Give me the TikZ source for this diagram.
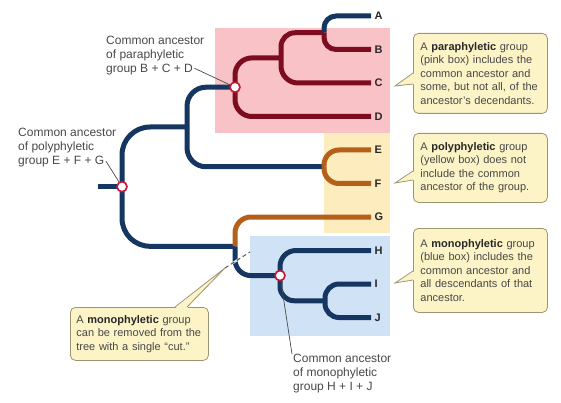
\documentclass[tikz,border=0pt]{standalone}
\usepackage{fontspec}
\setmainfont{Liberation Sans}
\usetikzlibrary{positioning}
\definecolor{navy}{RGB}{20,54,96}
\definecolor{darkred}{RGB}{125,12,32}
\definecolor{rust}{RGB}{180,96,26}
\definecolor{pinkbox}{RGB}{248,194,198}
\definecolor{yellowbox}{RGB}{253,236,190}
\definecolor{bluebox}{RGB}{207,226,246}
\definecolor{callfill}{RGB}{252,243,198}
\definecolor{callline}{RGB}{158,148,112}
\definecolor{ringred}{RGB}{200,22,52}
\definecolor{textgray}{RGB}{72,72,72}
\definecolor{termgray}{RGB}{40,40,40}
\newcommand{\term}[1]{\textbf{\color{termgray}#1}}
\newcommand{\sidepointer}[4]{%
  \fill[callfill] (#1) -- (#2+1.5,#3) -- (#2+1.5,#4) -- cycle;
  \draw[callline,line width=0.8pt] (#2,#3) -- (#1) -- (#2,#4);}

\begin{document}
\begin{tikzpicture}[x=1pt,y=-1pt,
    branch/.style={line width=5pt,rounded corners=15pt},
    ring/.style={circle,draw=ringred,fill=white,line width=1.6pt,minimum size=10pt,inner sep=0pt},
    leaf/.style={anchor=west,inner sep=3.5pt,text=termgray,font=\fontsize{11}{13}\selectfont\bfseries},
    note/.style={anchor=north west,inner sep=0pt,align=left,text=textgray,font=\fontsize{12}{14}\selectfont},
    leader/.style={draw=textgray,line width=0.7pt},
    callbox/.style={anchor=north west,draw=callline,fill=callfill,line width=0.8pt,rounded corners=5pt,
      text width=120pt,inner xsep=7pt,align=left,text=textgray,font=\fontsize{11}{13.5}\selectfont}]
  \useasboundingbox (0,0) rectangle (561,403);

  \fill[pinkbox] (215,28) rectangle (390,133);
  \fill[yellowbox] (324,133) rectangle (390,233);
  \fill[bluebox] (250,236) rectangle (390,336);

  \coordinate (stub) at (98,186.7);
  \coordinate (root) at (122,186.7);
  \coordinate (n1) at (187,127);
  \coordinate (n2) at (235,246.3);
  \coordinate (para) at (235,87.2);
  \coordinate (ef) at (324,166.75);
  \coordinate (bc) at (281,57.9);
  \coordinate (ab) at (324,32.75);
  \coordinate (mono) at (280,275.6);
  \coordinate (ij) at (325,300.75);

  \node[leaf] (A) at (371,16) {A};
  \node[leaf] (B) at (371,49.5) {B};
  \node[leaf] (C) at (371,83) {C};
  \node[leaf] (D) at (371,116.5) {D};
  \node[leaf] (E) at (371,150) {E};
  \node[leaf] (F) at (371,183.5) {F};
  \node[leaf] (G) at (371,217) {G};
  \node[leaf] (H) at (371,250.5) {H};
  \node[leaf] (I) at (371,284) {I};
  \node[leaf] (J) at (371,317.5) {J};

  \draw[branch,navy] (stub) -- (root);
  \draw[branch,navy,rounded corners=28pt] (root) |- (n1);
  \draw[branch,navy,rounded corners=28pt] (root) |- (n2);
  \draw[branch,navy,rounded corners=19pt] (n1) |- (para);
  \draw[branch,navy,rounded corners=19pt] (n1) |- (ef);
  \draw[branch,darkred,rounded corners=17pt] (para) |- (bc);
  \draw[branch,darkred,rounded corners=17pt] (para) |- (D.west);
  \draw[branch,darkred,rounded corners=14pt] (bc) |- (ab);
  \draw[branch,darkred,rounded corners=17pt] (bc) |- (C.west);
  \draw[branch,navy,rounded corners=12pt] (ab) |- (A.west);
  \draw[branch,darkred,rounded corners=12pt] (ab) |- (B.west);
  \draw[branch,rust] (ef) |- (E.west);
  \draw[branch,rust] (ef) |- (F.west);
  \draw[branch,rust,rounded corners=16pt] (n2) |- (G.west);
  \draw[branch,navy,rounded corners=16pt] (n2) |- (mono);
  \draw[branch,navy,rounded corners=16pt] (mono) |- (H.west);
  \draw[branch,navy,rounded corners=14pt] (mono) |- (ij);
  \draw[branch,navy,rounded corners=14pt] (ij) |- (I.west);
  \draw[branch,navy,rounded corners=14pt] (ij) |- (J.west);

  \node[ring] (rootC) at (root) {};
  \node[ring] (paraC) at (para) {};
  \node[ring] (monoC) at (mono) {};

  \node[note] (paraLbl) at (106,36) {Common ancestor\\of paraphyletic\\group B + C + D};
  \node[note] (polyLbl) at (18,128) {Common ancestor\\of polyphyletic\\group E + F + G};
  \node[note] (monoLbl) at (293,354) {Common ancestor\\of monophyletic\\group H + I + J};
  \draw[leader] ([shift={(-10,-7)}]paraLbl.south east) -- (paraC);
  \draw[leader] ([shift={(88,-6)}]polyLbl.south west) -- (rootC);
  \draw[leader] (monoC) -- ([shift={(-1,0)}]monoLbl.north west);

  \node[callbox,minimum height=80pt] (paraBox) at (413,33)
    {A \term{paraphyletic} group\\(pink box) includes the\\common ancestor and\\some, but not all, of the\\ancestor’s decendants.};
  \node[callbox,minimum height=69pt] (polyBox) at (413,133)
    {A \term{polyphyletic} group\\(yellow box) does not\\include the common\\ancestor of the group.};
  \node[callbox,minimum height=84pt] (monoBox) at (413,228)
    {A \term{monophyletic} group\\(blue box) includes the\\common ancestor and\\all descendants of that\\ancestor.};
  \node[callbox,text width=126pt,inner xsep=6pt,minimum height=53pt] (cutBox) at (70,307)
    {A \term{monophyletic} group\\can be removed from the\\tree with a single “cut.”};

  \coordinate (paraTip) at (395,86);
  \coordinate (polyTip) at (395,183);
  \coordinate (monoTip) at (395,283);
  \sidepointer{paraTip}{413}{73}{84}
  \sidepointer{polyTip}{413}{171}{180}
  \sidepointer{monoTip}{413}{271}{280}

  \coordinate (cutTip) at (225,268);
  \coordinate (cutEnd) at (250,252);
  \fill[callfill] (175,308.5) -- (cutTip) -- (187,308.5) -- cycle;
  \draw[callline,line width=0.8pt] (175,307) -- (cutTip) -- (187,307);
  \draw[line width=2.2pt,gray!25] (232,263.5) -- (239,259);
  \draw[textgray,line width=0.9pt,dash pattern=on 4pt off 3pt] (cutTip) -- (cutEnd);
\end{tikzpicture}
\end{document}
